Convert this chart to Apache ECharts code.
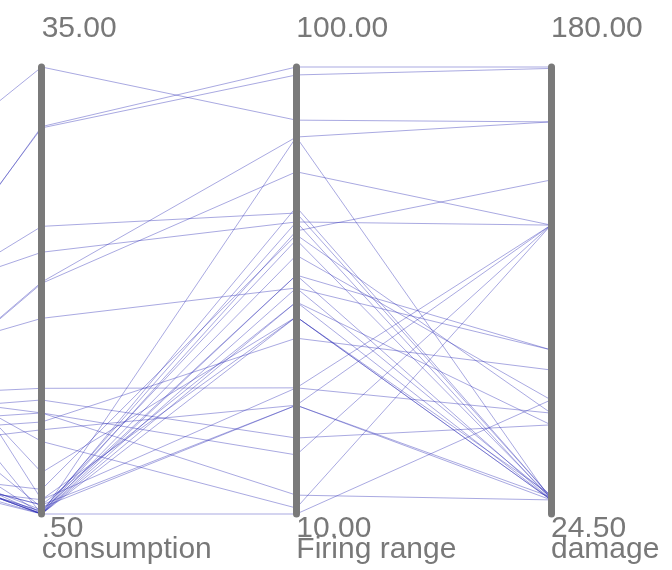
<!DOCTYPE html>
<html><head><meta charset="utf-8">
<script src="https://cdn.jsdelivr.net/npm/echarts@6/dist/echarts.min.js"></script>
<style>html,body{margin:0;padding:0;background:#fff}#c{width:672px;height:570px}</style>
</head><body><div id="c"></div>
<script>
// Dimensions (first one lies off the left edge of the picture)
const dimNames = ['hidden', 'consumption', 'Firing range', 'damage'];
const axisMin = [0, 0.5, 10, 24.5];
const axisMax = [100, 35, 100, 180];
const topLabels = ['', '35.00', '100.00', '180.00'];
const bottomLabels = ['', '.50', '10.00', '24.50'];

// Per-record values
const hiddenVals = [54.1, 7.6, 9.8, 29.5, 39.1, 3.1, 3.1, 27.3, 25.5, 21.0, 18.8, 30.0, 16.6, 12.1, 47.9, 70.2,
  21.0, 21.0, 18.8, 16.6, 23.3, 25.5, 14.3, 18.8, 21.0, 16.6, 70.2, 21.0, 92.6, 16.6, 47.9, 36.7, 12.1, 9.8];
const consumption = [35.0, 30.4, 30.3, 22.7, 20.7, 18.4, 18.3, 15.6, 10.2, 9.3, 8.3, 8.3, 7.6, 7.0, 6.1, 3.7,
  0.5, 0.5, 0.7, 0.5, 0.8, 0.5, 0.5, 0.7, 0.5, 1.2, 0.5, 0.5, 1.6, 1.2, 1.0, 0.5, 2.4, 1.6];
const firingRange = [89.3, 100.0, 98.4, 70.6, 68.8, 85.9, 78.9, 55.5, 35.4, 25.3, 21.9, 13.8, 45.4, 31.9, 11.2, 49.7,
  85.9, 71.8, 68.8, 67.0, 65.2, 62.1, 58.1, 58.1, 55.5, 52.7, 52.7, 49.7, 49.7, 31.9, 31.9, 10.0, 66.2, 35.4];
const damage = [160.9, 180.0, 179.5, 30.4, 125.0, 160.9, 125.0, 81.6, 59.6, 55.5, 125.0, 29.4, 74.6, 125.0, 125.0, 29.4,
  29.4, 30.4, 29.4, 140.7, 30.1, 64.2, 29.4, 81.6, 30.4, 55.5, 29.4, 31.1, 29.4, 30.4, 29.4, 64.2, 59.6, 125.0];

const data = consumption.map((c, i) => [hiddenVals[i], c, firingRange[i], damage[i]]);

const fontFamily = '"Liberation Sans", Arial, sans-serif';
const textColor = '#787878';
const chart = echarts.init(document.getElementById('c'), null, { renderer: 'canvas' });
chart.setOption({
  animation: false,
  backgroundColor: '#ffffff',
  parallel: { left: -213, right: 121, top: 67, bottom: 56, layout: 'horizontal' },
  parallelAxis: dimNames.map((n, i) => ({
    dim: i,
    name: i === 0 ? '' : bottomLabels[i] + '\n' + n,
    nameLocation: 'start',
    nameGap: 4,
    nameTextStyle: { align: 'left', verticalAlign: 'top', fontSize: 30, lineHeight: 21, color: textColor, fontFamily },
    min: axisMin[i],
    max: axisMax[i],
    interval: axisMax[i] - axisMin[i],
    axisLine: { show: true, lineStyle: { color: '#7a7a7a', width: 7 } },
    axisTick: { show: false },
    splitLine: { show: false },
    axisLabel: {
      show: i > 0,
      showMinLabel: false,
      formatter: v => (Math.abs(v - axisMax[i]) < 1e-9 ? '{t|' + topLabels[i] + '}\n{s| }' : ''),
      align: 'left',
      verticalAlign: 'middle',
      margin: 0,
      rich: {
        t: { fontSize: 30, lineHeight: 30, color: textColor, fontFamily, align: 'left' },
        s: { fontSize: 10, lineHeight: 76 }
      }
    }
  })),
  series: [{
    type: 'parallel',
    silent: true,
    smooth: false,
    data,
    lineStyle: { color: '#2828b4', width: 1, opacity: 0.4 }
  }]
});
</script></body></html>
